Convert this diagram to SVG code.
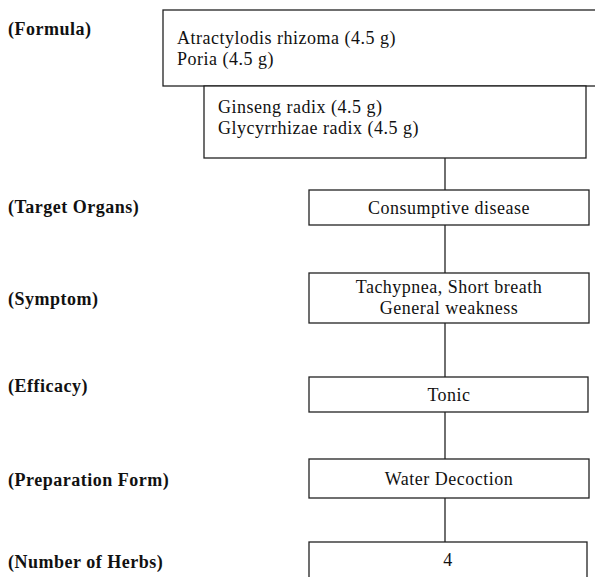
<svg xmlns="http://www.w3.org/2000/svg" width="595" height="577" viewBox="0 0 595 577">
<style>
.box{fill:#fff;stroke:#222;stroke-width:1.3}
.lbl{font-family:"Liberation Serif",serif;font-weight:bold;font-size:18px;letter-spacing:0.5px;fill:#111}
.t{font-family:"Liberation Serif",serif;font-size:18px;letter-spacing:0.5px;fill:#111}
.c{text-anchor:middle}
.edge{stroke:#222;stroke-width:1.3;fill:none}
</style>
<rect width="595" height="577" fill="#fff"/>
<g id="labels">
<text class="lbl" x="8" y="35">(Formula)</text>
<text class="lbl" x="8" y="213">(Target Organs)</text>
<text class="lbl" x="8" y="305">(Symptom)</text>
<text class="lbl" x="8" y="392">(Efficacy)</text>
<text class="lbl" x="8" y="486">(Preparation Form)</text>
<text class="lbl" x="8" y="568">(Number of Herbs)</text>
</g>
<g id="connectors">
<line class="edge" x1="445" y1="158" x2="445" y2="190"/>
<line class="edge" x1="445" y1="225" x2="445" y2="273"/>
<line class="edge" x1="445" y1="323" x2="445" y2="377"/>
<line class="edge" x1="445" y1="412" x2="445" y2="459"/>
<line class="edge" x1="445" y1="498" x2="445" y2="542"/>
</g>
<g id="formula1">
<rect class="box" x="163" y="10" width="450" height="76"/>
<text class="t" x="177" y="44">Atractylodis rhizoma (4.5 g)</text>
<text class="t" x="177" y="65">Poria (4.5 g)</text>
</g>
<g id="formula2">
<rect class="box" x="204" y="86" width="382" height="72"/>
<text class="t" x="218" y="113">Ginseng radix (4.5 g)</text>
<text class="t" x="218" y="134">Glycyrrhizae radix (4.5 g)</text>
</g>
<g id="target">
<rect class="box" x="309" y="190" width="280" height="35"/>
<text class="t c" x="449" y="214">Consumptive disease</text>
</g>
<g id="symptom">
<rect class="box" x="309" y="273" width="280" height="50"/>
<text class="t c" x="449" y="293">Tachypnea, Short breath</text>
<text class="t c" x="449" y="314">General weakness</text>
</g>
<g id="efficacy">
<rect class="box" x="309" y="377" width="279" height="35"/>
<text class="t c" x="449" y="401">Tonic</text>
</g>
<g id="preparation">
<rect class="box" x="309" y="459" width="280" height="39"/>
<text class="t c" x="449" y="485">Water Decoction</text>
</g>
<g id="herbs">
<rect class="box" x="309" y="542" width="278" height="50"/>
<text class="t c" x="448" y="566">4</text>
</g>
</svg>
